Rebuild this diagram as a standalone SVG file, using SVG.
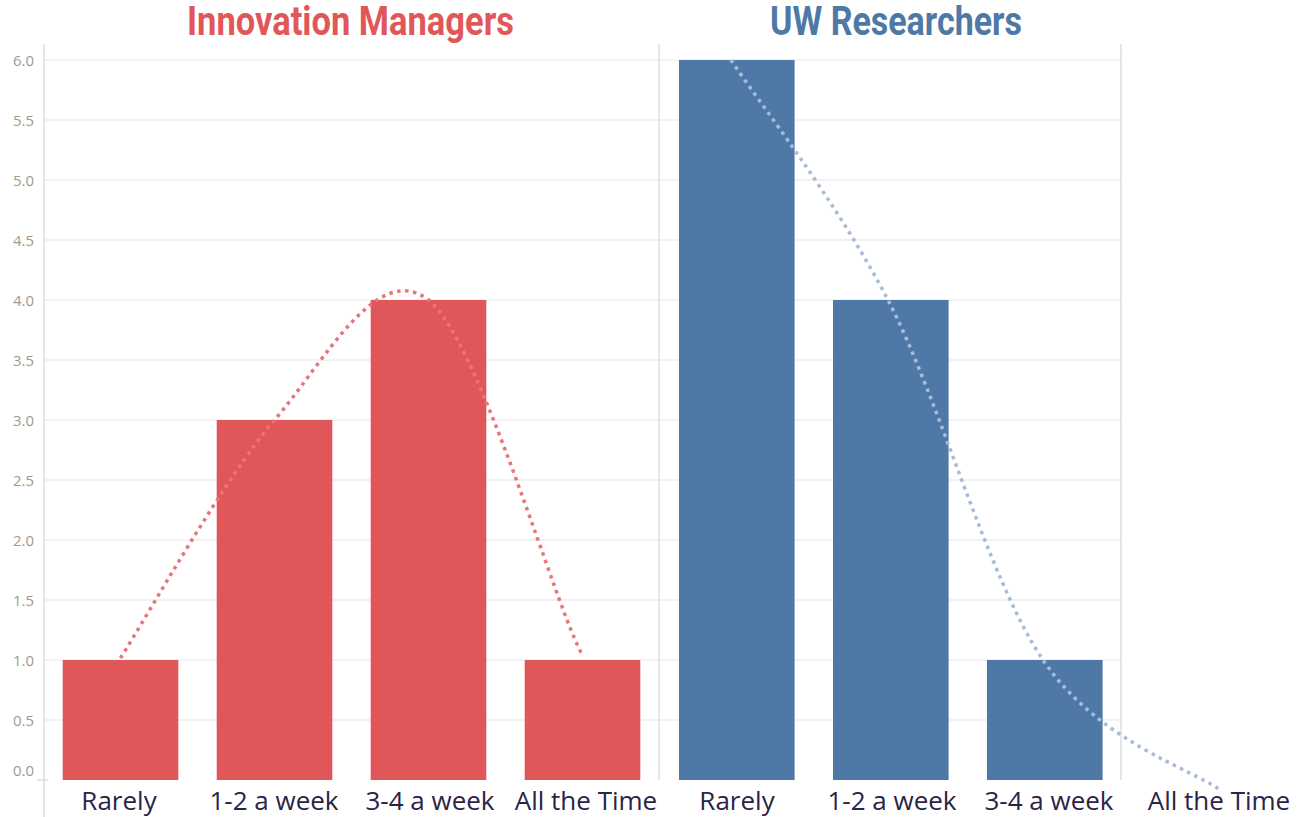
<svg xmlns="http://www.w3.org/2000/svg" width="1301" height="817" viewBox="0 0 1301 817">
<style>
.grid{stroke:#eeeeee;stroke-width:1.5;fill:none}
.axis{stroke:#d6d6d6;stroke-width:1.2;fill:none}
.tick{font-family:"Open Sans","Liberation Sans",sans-serif;font-size:15px;fill:#a39a8f;text-anchor:end}
.cat{font-family:"Open Sans","Liberation Sans",sans-serif;font-size:26px;fill:#2b2447;text-anchor:middle}
.title{font-family:Roboto,"Liberation Sans",sans-serif;font-size:40px;font-weight:bold}
.red{fill:#e15759}
.blue{fill:#4e79a7}
.trend{fill:none;stroke-width:3.5;stroke-dasharray:3.5 4.5}
</style>
<rect width="1301" height="817" fill="#ffffff"/>
<g id="gridlines">
<line class="grid" x1="44" y1="60" x2="1121" y2="60"/>
<line class="grid" x1="44" y1="120" x2="1121" y2="120"/>
<line class="grid" x1="44" y1="180" x2="1121" y2="180"/>
<line class="grid" x1="44" y1="240" x2="1121" y2="240"/>
<line class="grid" x1="44" y1="300" x2="1121" y2="300"/>
<line class="grid" x1="44" y1="360" x2="1121" y2="360"/>
<line class="grid" x1="44" y1="420" x2="1121" y2="420"/>
<line class="grid" x1="44" y1="480" x2="1121" y2="480"/>
<line class="grid" x1="44" y1="540" x2="1121" y2="540"/>
<line class="grid" x1="44" y1="600" x2="1121" y2="600"/>
<line class="grid" x1="44" y1="660" x2="1121" y2="660"/>
<line class="grid" x1="44" y1="720" x2="1121" y2="720"/>
</g>
<g id="axes">
<line class="axis" x1="44" y1="44" x2="44" y2="817"/>
<line class="axis" x1="659" y1="44" x2="659" y2="780"/>
<line class="axis" x1="1121" y1="44" x2="1121" y2="780"/>
<line class="axis" x1="37" y1="780" x2="48" y2="780"/>
</g>
<g id="yticks">
<text class="tick" x="34" y="65.5">6.0</text>
<text class="tick" x="34" y="125.5">5.5</text>
<text class="tick" x="34" y="185.5">5.0</text>
<text class="tick" x="34" y="245.5">4.5</text>
<text class="tick" x="34" y="305.5">4.0</text>
<text class="tick" x="34" y="365.5">3.5</text>
<text class="tick" x="34" y="425.5">3.0</text>
<text class="tick" x="34" y="485.5">2.5</text>
<text class="tick" x="34" y="545.5">2.0</text>
<text class="tick" x="34" y="605.5">1.5</text>
<text class="tick" x="34" y="665.5">1.0</text>
<text class="tick" x="34" y="725.5">0.5</text>
<text class="tick" x="34" y="776">0.0</text>
</g>
<g id="titles">
<text id="title-innovation" class="title" x="187" y="35" fill="#e15759" textLength="327" lengthAdjust="spacingAndGlyphs">Innovation Managers</text>
<text id="title-uw" class="title" x="770" y="35" fill="#4e79a7" textLength="252" lengthAdjust="spacingAndGlyphs">UW Researchers</text>
</g>
<g id="bars-innovation">
<rect id="im-rarely" class="red" x="62.7" y="660" width="115.6" height="120"/>
<rect id="im-12" class="red" x="216.7" y="420" width="115.6" height="360"/>
<rect id="im-34" class="red" x="370.7" y="300" width="115.6" height="480"/>
<rect id="im-all" class="red" x="524.7" y="660" width="115.6" height="120"/>
</g>
<g id="bars-uw">
<rect id="uw-rarely" class="blue" x="679" y="60" width="115.6" height="720"/>
<rect id="uw-12" class="blue" x="833" y="300" width="115.6" height="480"/>
<rect id="uw-34" class="blue" x="987" y="660" width="115.6" height="120"/>
</g>
<g id="trendlines">
<path class="trend" stroke="#eb7478" d="M120.5,658 C146.2,618 223.2,480 274.5,420 C325.8,360 377.2,260 428.5,300 C479.8,340 556.8,612 582.5,655"/>
<path class="trend" stroke="#a6bcd7" d="M731,60 C757.2,100 836,200 888,300 C940,400 987.7,578.3 1043,660 C1098.3,741.7 1190.5,768.3 1220,790"/>
</g>
<g id="categories">
<text class="cat" x="119" y="810">Rarely</text>
<text class="cat" x="274" y="810">1-2 a week</text>
<text class="cat" x="430" y="810">3-4 a week</text>
<text class="cat" x="586" y="810">All the Time</text>
<text class="cat" x="737" y="810">Rarely</text>
<text class="cat" x="892" y="810">1-2 a week</text>
<text class="cat" x="1049" y="810">3-4 a week</text>
<text class="cat" x="1219" y="810">All the Time</text>
</g>
</svg>
